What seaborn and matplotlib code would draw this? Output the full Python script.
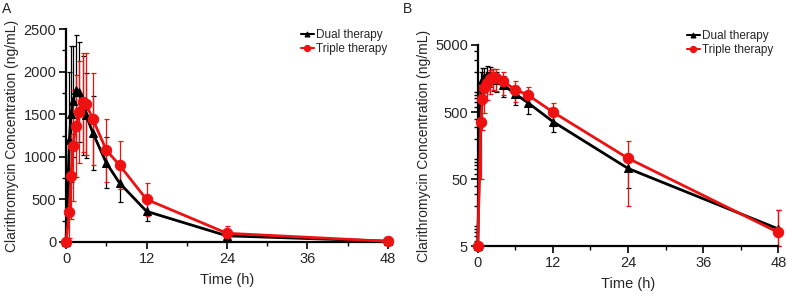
import numpy as np
import pandas as pd
import matplotlib
matplotlib.use("Agg")
import matplotlib.pyplot as plt
from matplotlib.ticker import MultipleLocator, FixedLocator, NullFormatter, LogLocator
import seaborn as sns

sns.set_theme(style="ticks")
plt.rcParams["font.family"] = ["Liberation Sans", "DejaVu Sans"]

# sampling times (h)
times = [0, 0.5, 0.75, 1, 1.5, 2, 2.5, 3, 4, 6, 8, 12, 24, 48]

# mean / SD concentrations (ng/mL)
dual_mean = [0, 1200, 1500, 1650, 1780, 1760, 1600, 1490, 1280, 930, 690, 360, 72, 9]
dual_sd = [0, 800, 800, 650, 650, 590, 580, 500, 435, 300, 215, 110, 35, 8]
triple_mean = [0, 350, 770, 1130, 1360, 1530, 1640, 1620, 1440, 1080, 900, 500, 102, 8]
triple_sd = [0, 300, 500, 650, 600, 600, 580, 600, 540, 370, 280, 190, 82, 9]

groups = ["Dual therapy", "Triple therapy"]
colors = {"Dual therapy": "black", "Triple therapy": "#ee1111"}
markers = {"Dual therapy": "^", "Triple therapy": "o"}

df = pd.concat([
    pd.DataFrame({"time": times, "conc": dual_mean, "sd": dual_sd, "group": "Dual therapy"}),
    pd.DataFrame({"time": times, "conc": triple_mean, "sd": triple_sd, "group": "Triple therapy"}),
], ignore_index=True)

fig = plt.figure(figsize=(7.87, 2.94), dpi=100)
axA = fig.add_axes([0.0839, 0.177, 0.409, 0.724])
axB = fig.add_axes([0.607, 0.163, 0.382, 0.684])


def draw(ax, log=False, anchor=(1.02, 1.04)):
    floor = 5 if log else 0
    for g in groups:
        d = df[df["group"] == g].copy()
        d["plot"] = np.maximum(d["conc"], floor)
        lo = np.minimum(d["sd"], d["plot"] - floor) if log else d["sd"]
        ax.errorbar(d["time"], d["plot"], yerr=[lo, d["sd"]], fmt="none",
                    ecolor=colors[g], elinewidth=0.9, capsize=1.8, capthick=0.9,
                    clip_on=False, zorder=2)
        sns.lineplot(data=d, x="time", y="plot", ax=ax, color=colors[g],
                     marker=markers[g], markersize=7.5 if g == "Triple therapy" else 6,
                     markeredgecolor=colors[g], linewidth=2, label=g,
                     clip_on=False, zorder=3)
    ax.set_xlim(0, 48)
    ax.xaxis.set_major_locator(MultipleLocator(12))
    ax.xaxis.set_minor_locator(MultipleLocator(6))
    ax.set_xlabel("Time (h)", fontsize=10.5, labelpad=5)
    ax.set_ylabel("Clarithromycin Concentration (ng/mL)", fontsize=10, labelpad=3)
    sns.despine(ax=ax)
    for s in ["left", "bottom"]:
        ax.spines[s].set_linewidth(1.6)
        ax.spines[s].set_color("black")
    ax.tick_params(axis="both", which="major", direction="out", length=5, width=1.2,
                   labelsize=10.5, color="black", pad=2)
    ax.tick_params(axis="both", which="minor", direction="out", length=3, width=1.0,
                   color="black")
    leg = ax.legend(loc="upper right", bbox_to_anchor=anchor, frameon=False,
                    fontsize=8.5, handlelength=1.1, handletextpad=0.2,
                    labelspacing=0.2, borderaxespad=0.2, markerscale=0.6)
    for line in leg.get_lines():
        line.set_linewidth(1.5)


draw(axA, anchor=(1.02, 1.035))
axA.set_ylim(0, 2500)
axA.yaxis.set_major_locator(MultipleLocator(500))
axA.yaxis.set_minor_locator(MultipleLocator(250))

draw(axB, log=True, anchor=(1.007, 1.11))
axB.set_yscale("log")
axB.set_ylim(5, 5000)
axB.yaxis.set_major_locator(FixedLocator([5, 50, 500, 5000]))
axB.yaxis.set_major_formatter(matplotlib.ticker.FuncFormatter(lambda v, p: f"{v:g}"))
axB.yaxis.set_minor_locator(LogLocator(base=10, subs=np.arange(1, 10)))
axB.yaxis.set_minor_formatter(NullFormatter())

fig.text(0.003, 0.955, "A", fontsize=10)
fig.text(0.512, 0.955, "B", fontsize=10)

fig.savefig("out.png", dpi=100)
